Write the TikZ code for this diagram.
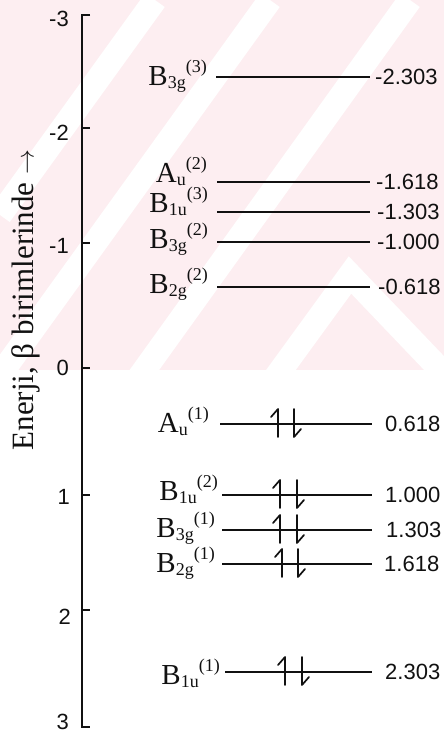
\documentclass[tikz,border=0pt]{standalone}
\usepackage{fontspec}
\setmainfont{Liberation Serif}
\newfontfamily\numfont{Liberation Sans}
\usetikzlibrary{positioning,calc}
\definecolor{ink}{HTML}{111111}
\definecolor{wmpink}{HTML}{FDEEF1}

% orbital label: letter, subscript, superscript index
\newcommand{\orb}[3]{#1\raisebox{-3pt}{\fontsize{18}{18}\selectfont #2}\raisebox{13pt}{\fontsize{18}{18}\selectfont (#3)}}
% electron pair on a level: x of up arrow, x of down arrow, y of level
\newcommand{\spinpair}[3]{%
  \draw[spin] (#1,#3+13) -- (#1,#3-15) -- ++(-7,8);
  \draw[spin] (#2,#3-15) -- (#2,#3+13) -- ++(7,-8);}

\begin{document}
\begin{tikzpicture}[x=1pt, y=-1pt,
  level/.style={draw=ink, line width=1.7pt},
  axisline/.style={draw=ink, line width=1.8pt},
  spin/.style={draw=ink, line width=1.7pt, line cap=round, line join=round},
  lab/.style={anchor=base east, inner sep=0pt, text=ink, font=\fontsize{29}{31}\selectfont},
  val/.style={anchor=west, inner sep=0pt, text=ink, font=\numfont\fontsize{22}{24}\selectfont},
  ticklab/.style={anchor=east, inner sep=0pt, text=ink, font=\numfont\fontsize{22}{24}\selectfont}
]
  \useasboundingbox (0,0) rectangle (444,742);

  % watermark
  \begin{scope}
    \clip (0,0) rectangle (444,370);
    \fill[wmpink] (0,0) rectangle (444,370);
    \draw[white, line width=24pt] (0,215) -- (155,0);
    \draw[white, line width=24pt] (0,375) -- (270,0);
    \draw[white, line width=24pt] (130,390) -- (410,0);
    \draw[white, line width=24pt] (270,385) -- (350,275) -- (455,385);
  \end{scope}

  % energy axis
  \coordinate (atop) at (82,15);
  \coordinate (abot) at (82,727);
  \draw[axisline] ($(atop)+(8,0)$) -- (atop) -- (abot) -- ($(abot)+(8,0)$);
  \draw[axisline] (82,128) -- (90,128);
  \draw[axisline] (82,243) -- (90,243);
  \draw[axisline] (82,368) -- (90,368);
  \draw[axisline] (82,495) -- (90,495);
  \draw[axisline] (82,610) -- (90,610);

  \node[ticklab] (tm3) at (69,19) {-3};
  \node[ticklab] (tm2) at (69,133) {-2};
  \node[ticklab] (tm1) at (69,246) {-1};
  \node[ticklab] (t0) at (69,368) {0};
  \node[ticklab] (t1) at (70,497) {1};
  \node[ticklab] (t2) at (71,617) {2};
  \node[ticklab] (t3) at (69,722) {3};

  \node[rotate=90, inner sep=0pt, text=ink, font=\fontsize{31}{33}\selectfont] (etitle) at (26,300)
    {Enerji, β birimlerinde {\fontsize{25}{25}\selectfont$\rightarrow$}};

  % empty levels
  \draw[level] (216,77) -- (370,77);
  \draw[level] (217,182) -- (370,182);
  \draw[level] (217,212) -- (370,212);
  \draw[level] (217,242) -- (370,242);
  \draw[level] (217,287) -- (370,287);

  \node[lab] (b3g3) at (207,85) {\orb{B}{3g}{3}};
  \node[lab] (au2) at (207,182) {\orb{A}{u}{2}};
  \node[lab] (b1u3) at (208,212) {\orb{B}{1u}{3}};
  \node[lab] (b3g2) at (208,248) {\orb{B}{3g}{2}};
  \node[lab] (b2g2) at (208,293) {\orb{B}{2g}{2}};

  \node[val] (e1) at (375,77) {-2.303};
  \node[val] (e2) at (376,182) {-1.618};
  \node[val] (e3) at (377,212) {-1.303};
  \node[val] (e4) at (377,242) {-1.000};
  \node[val] (e5) at (378,287) {-0.618};

  % filled levels
  \draw[level] (220,424) -- (372,424);
  \draw[level] (222,495) -- (372,495);
  \draw[level] (222,530) -- (372,530);
  \draw[level] (222,564) -- (372,564);
  \draw[level] (225,672) -- (372,672);

  \node[lab] (au1) at (209,432) {\orb{A}{u}{1}};
  \node[lab] (b1u2) at (218,500) {\orb{B}{1u}{2}};
  \node[lab] (b3g1) at (215,537) {\orb{B}{3g}{1}};
  \node[lab] (b2g1) at (215,572) {\orb{B}{2g}{1}};
  \node[lab] (b1u1) at (220,684) {\orb{B}{1u}{1}};

  \node[val] (e6) at (385,424) {0.618};
  \node[val] (e7) at (385,495) {1.000};
  \node[val] (e8) at (386,530) {1.303};
  \node[val] (e9) at (384,564) {1.618};
  \node[val] (e10) at (385,672) {2.303};

  \spinpair{278}{294}{424}
  \spinpair{280}{297}{495}
  \spinpair{280}{297}{530}
  \spinpair{282}{298}{564}
  \spinpair{285}{302}{672}
\end{tikzpicture}
\end{document}
